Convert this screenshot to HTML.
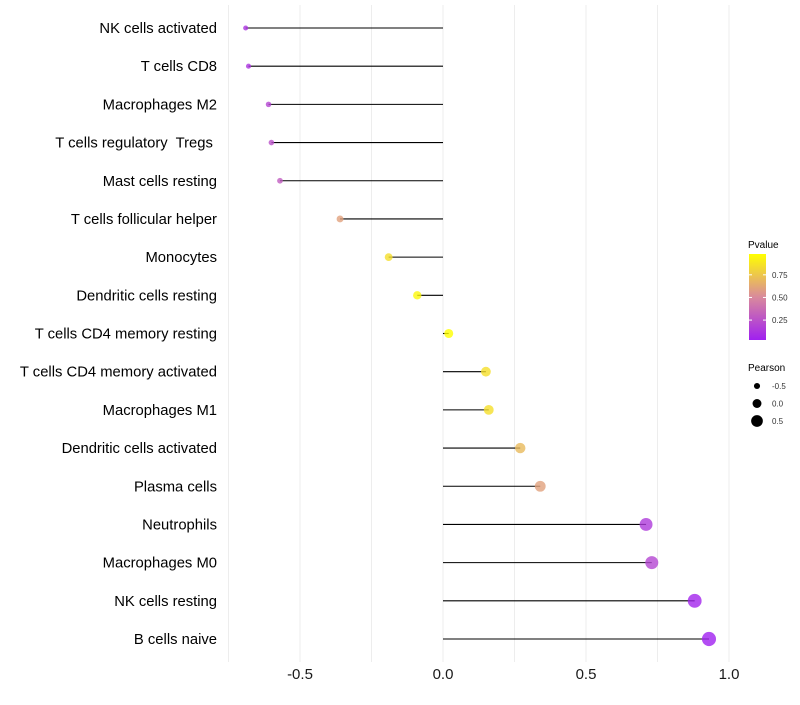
<!DOCTYPE html>
<html><head><meta charset="utf-8"><style>
body{margin:0;background:#fff;font-family:"Liberation Sans",sans-serif}
text{white-space:pre}
</style></head><body>
<svg id="c" width="800" height="700" xmlns="http://www.w3.org/2000/svg">
<defs><linearGradient id="g" x1="0" y1="1" x2="0" y2="0">
<stop offset="0" stop-color="#a020f0"/><stop offset="0.5" stop-color="#d98a9c"/><stop offset="1" stop-color="#ffff00"/></linearGradient></defs>
</svg>
<script>
const categories=["NK cells activated","T cells CD8","Macrophages M2","T cells regulatory  Tregs ","Mast cells resting","T cells follicular helper","Monocytes","Dendritic cells resting","T cells CD4 memory resting","T cells CD4 memory activated","Macrophages M1","Dendritic cells activated","Plasma cells","Neutrophils","Macrophages M0","NK cells resting","B cells naive"];
const pearson=[-0.69,-0.68,-0.61,-0.60,-0.57,-0.36,-0.19,-0.09,0.02,0.15,0.16,0.27,0.34,0.71,0.73,0.88,0.93];
const pvalue=[0.12,0.12,0.2,0.25,0.3,0.6,0.85,0.95,0.98,0.85,0.85,0.7,0.6,0.15,0.2,0.05,0.03];
const xTicks=[-0.5,0,0.5,1.0];
const xTickLabels=["-0.5","0.0","0.5","1.0"];
const grid=[-0.75,-0.5,-0.25,0,0.25,0.5,0.75,1.0];
const legendP=[0.75,0.5,0.25];
const legendS=[-0.5,0,0.5];

const svg=document.getElementById('c');const NS="http://www.w3.org/2000/svg";
const X=v=>443+v*286;
const Y=i=>28+i*(639-28)/(categories.length-1);
const R=v=>2.5+(v+0.7)*2.8;
function col(p){const a=[160,32,240],m=[217,138,156],b=[255,255,0];let t=Math.max(0,Math.min(1,(p-0.03)/0.95));let s,e;if(t<0.5){s=a;e=m;t*=2}else{s=m;e=b;t=(t-0.5)*2}return `rgb(${s.map((v,k)=>Math.round(v+(e[k]-v)*t)).join(',')})`}
function el(t,a,txt){const e=document.createElementNS(NS,t);for(const k in a)e.setAttribute(k,a[k]);if(txt!=null)e.textContent=txt;svg.appendChild(e);return e}
grid.forEach(g=>{const l=el('line',{x1:X(g),x2:X(g),y1:5,y2:662,stroke:'#ededed','stroke-width':1});

});
categories.forEach((c,i)=>{
const t=el('text',{x:217,y:Y(i)+5,'text-anchor':'end','font-size':14.8,fill:'#000'},c);


const l=el('line',{x1:X(0),x2:X(pearson[i]),y1:Y(i),y2:Y(i),stroke:'#000','stroke-width':1.1});


const p=el('circle',{cx:X(pearson[i]),cy:Y(i),r:R(pearson[i]),fill:col(pvalue[i]),'fill-opacity':0.8});


});
xTicks.forEach((v,i)=>{const t=el('text',{x:X(v),y:679,'text-anchor':'middle','font-size':15,fill:'#1a1a1a'},xTickLabels[i]);

});
let t=el('text',{x:748,y:248,'font-size':10},'Pvalue');


let r=el('rect',{x:749,y:254,width:17,height:86,fill:'url(#g)'});


legendP.forEach(p=>{const y=340-(p-0.03)/0.95*86;
el('line',{x1:749,x2:752,y1:y,y2:y,stroke:'#fff'});el('line',{x1:763,x2:766,y1:y,y2:y,stroke:'#fff'});
const l=el('text',{x:772,y:y+3,'font-size':8,fill:'#333'},p.toFixed(2));

});
t=el('text',{x:748,y:371,'font-size':10},'Pearson');


legendS.forEach((s,i)=>{const y=386+i*17.5;
const c=el('circle',{cx:757,cy:y,r:R(s),fill:'#000'});


const l=el('text',{x:772,y:y+3,'font-size':8,fill:'#333'},s===0?'0.0':String(s));

});
</script>
</body></html>
